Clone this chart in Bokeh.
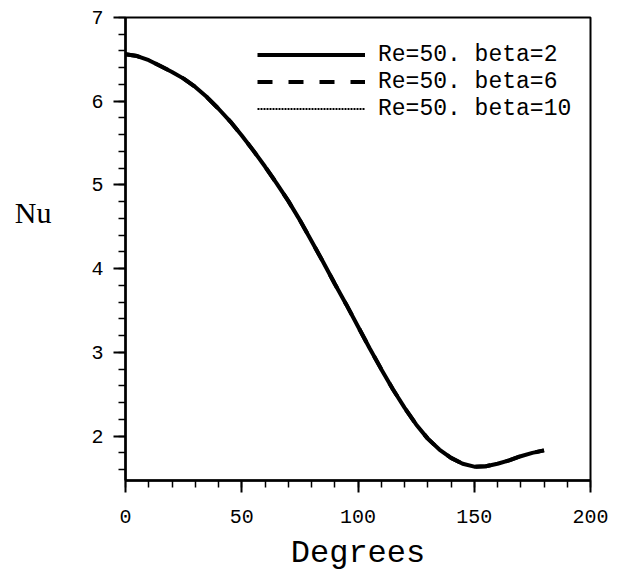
from bokeh.plotting import figure
from bokeh.models import FixedTicker, Legend, LegendItem, Range1d
from bokeh.embed import file_html
from bokeh.resources import INLINE

# Local Nusselt number around the cylinder, Re=50
degrees = [0, 5, 10, 15, 20, 25, 30, 35, 40, 45, 50, 55, 60, 65, 70, 75, 80, 85, 90,
           95, 100, 105, 110, 115, 120, 125, 130, 135, 140, 145, 150, 155, 160, 165, 170, 175, 180]
nu_beta2 = [6.56, 6.54, 6.49, 6.42, 6.35, 6.27, 6.17, 6.05, 5.91, 5.76, 5.59, 5.41, 5.22, 5.02,
            4.81, 4.58, 4.33, 4.08, 3.82, 3.57, 3.31, 3.05, 2.80, 2.56, 2.34, 2.14, 1.97, 1.84,
            1.74, 1.67, 1.635, 1.64, 1.67, 1.71, 1.76, 1.80, 1.83]
nu_beta6 = [6.56, 6.54, 6.49, 6.42, 6.35, 6.27, 6.17, 6.05, 5.91, 5.76, 5.59, 5.41, 5.22, 5.02,
            4.81, 4.58, 4.33, 4.08, 3.82, 3.57, 3.31, 3.05, 2.80, 2.56, 2.34, 2.14, 1.97, 1.84,
            1.74, 1.67, 1.635, 1.64, 1.67, 1.71, 1.76, 1.80, 1.83]
nu_beta10 = [6.56, 6.54, 6.49, 6.42, 6.35, 6.27, 6.17, 6.05, 5.91, 5.76, 5.59, 5.41, 5.22, 5.02,
             4.81, 4.58, 4.33, 4.08, 3.82, 3.57, 3.31, 3.05, 2.80, 2.56, 2.34, 2.14, 1.97, 1.84,
             1.74, 1.67, 1.635, 1.64, 1.67, 1.71, 1.76, 1.80, 1.83]

series_labels = ["Re=50. beta=2", "Re=50. beta=6", "Re=50. beta=10"]
x_major = [0, 50, 100, 150, 200]
x_minor = list(range(0, 201, 10))
y_major = [2, 3, 4, 5, 6, 7]
y_minor = [round(1.6 + 0.2 * i, 1) for i in range(28)]

FONT = "Liberation Mono"

p = figure(width=617, height=578,
           x_range=Range1d(0, 200), y_range=Range1d(1.47, 7.0),
           output_backend="svg", toolbar_location=None,
           min_border_left=125, min_border_right=27,
           min_border_top=17, min_border_bottom=98)

p.xgrid.visible = False
p.ygrid.visible = False
p.outline_line_color = "black"
p.outline_line_width = 2
p.background_fill_color = "white"
p.border_fill_color = "white"

r1 = p.line(degrees, nu_beta2, line_color="black", line_width=4)
r2 = p.line(degrees, nu_beta6, line_color="black", line_width=4, line_dash="15 16")
r3 = p.line(degrees, nu_beta10, line_color="black", line_width=2, line_dash="2 1")

xa = p.xaxis[0]
xa.ticker = FixedTicker(ticks=x_major, minor_ticks=x_minor)
xa.axis_label = "Degrees"
xa.axis_label_text_font = FONT
xa.axis_label_text_font_size = "32px"
xa.axis_label_text_font_style = "normal"
xa.axis_label_text_color = "black"
xa.axis_label_standoff = 9

ya = p.yaxis[0]
ya.ticker = FixedTicker(ticks=y_major, minor_ticks=y_minor)
# Horizontal "Nu" title; the empty lines below lift it above the axis middle
ya.axis_label = "Nu\n\n"
ya.axis_label_orientation = "horizontal"
ya.axis_label_text_font = "Liberation Serif"
ya.axis_label_text_font_size = "30px"
ya.axis_label_text_font_style = "normal"
ya.axis_label_text_color = "black"
ya.axis_label_text_line_height = 1.1
ya.axis_label_standoff = 37

for ax in (xa, ya):
    ax.axis_line_width = 2.5
    ax.major_tick_in = 0
    ax.major_tick_out = 12
    ax.minor_tick_in = 0
    ax.minor_tick_out = 7
    ax.major_tick_line_width = 2
    ax.minor_tick_line_width = 1.5
    ax.major_label_text_font = FONT
    ax.major_label_text_font_size = "20px"
    ax.major_label_text_color = "black"
xa.major_label_standoff = 17
ya.major_label_standoff = 10

legend = Legend(items=[LegendItem(label=series_labels[0], renderers=[r1]),
                       LegendItem(label=series_labels[1], renderers=[r2]),
                       LegendItem(label=series_labels[2], renderers=[r3])],
                location=(132, 358))
legend.border_line_color = None
legend.background_fill_alpha = 0
legend.padding = 0
legend.margin = 0
legend.spacing = 0
legend.glyph_width = 108
legend.glyph_height = 27
legend.label_height = 27
legend.label_standoff = 13
legend.label_text_font = FONT
legend.label_text_font_size = "23px"
legend.label_text_color = "black"
p.add_layout(legend)

open("out.html", "w").write(file_html(p, INLINE))
